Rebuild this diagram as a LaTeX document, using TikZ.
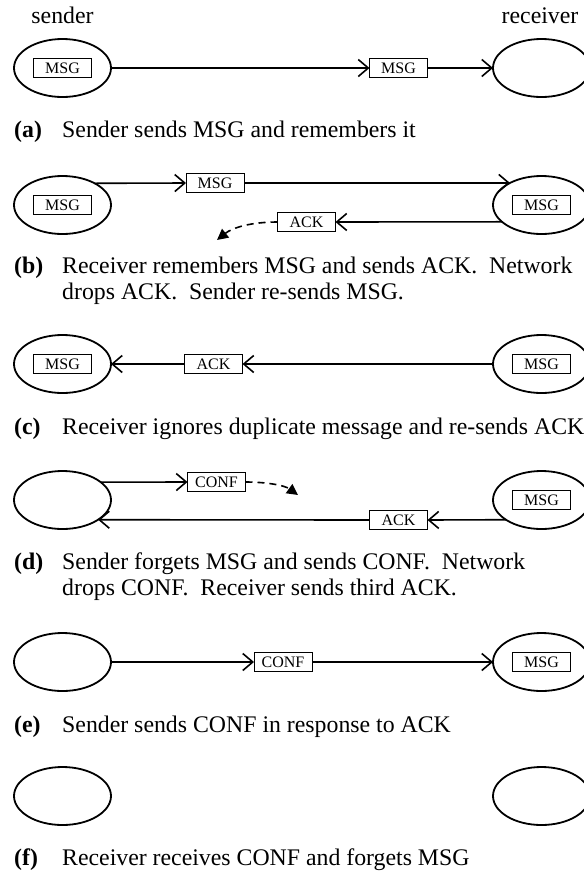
\documentclass[tikz,border=0pt]{standalone}
\usepackage{fontspec}
\setmainfont{Liberation Serif}
\usetikzlibrary{shapes.geometric,arrows.meta}
\begin{document}
\begin{tikzpicture}[x=1pt,y=-1pt,
  proc/.style={draw,line width=1.8pt,ellipse,minimum width=97pt,minimum height=58pt,inner sep=0pt,outer sep=0pt},
  pkt/.style={draw,fill=white,line width=1pt,minimum width=58pt,minimum height=19pt,inner sep=0pt,outer sep=0pt,font=\fontsize{16}{18}\selectfont},
  msgarrow/.style={line width=1.6pt,-{Straight Barb[length=10pt,width=17pt,line width=1.6pt]}},
  lost/.style={line width=1.6pt,dash pattern=on 7pt off 5pt,-{Triangle[length=11pt,width=11pt]}},
  ttl/.style={anchor=base,font=\fontsize{23.8}{26}\selectfont,inner sep=0pt},
  captext/.style={anchor=base west,font=\fontsize{23.8}{26}\selectfont,inner sep=0pt},
  tag/.style={anchor=base west,font=\fontsize{23.8}{26}\selectfont\bfseries,inner sep=0pt}
]
\useasboundingbox (0,0) rectangle (584,876);

% titles
\node[ttl] (lblS) at (62.5,23) {sender};
\node[ttl] (lblR) at (540,23) {receiver};

% (a)
\node[proc] (sa) at (62.5,68) {};
\node[pkt] (sam) at (62.5,68) {MSG};
\node[proc] (ra) at (541.5,68) {};
\node[pkt] (am) at (398.5,68) {MSG};
\draw[msgarrow] (sa.east) -- (am.west);
\draw[msgarrow] (am.east) -- (ra.west);
\node[tag] (ta) at (14,137) {(a)};
\node[captext] (ca) at (62,137) {Sender sends MSG and remembers it};

% (b)
\node[proc] (sb) at (62.5,205) {};
\node[pkt] (sbm) at (62.5,205) {MSG};
\node[proc] (rb) at (541.5,205) {};
\node[pkt] (rbm) at (541.5,205) {MSG};
\node[pkt] (bm) at (215,183) {MSG};
\draw[msgarrow] (sb.34.85) -- (bm.west);
\draw[msgarrow] (bm.east) -- (rb.145.15);
\node[pkt] (bk) at (306.5,222) {ACK};
\draw[msgarrow] (rb.203.4) -- (bk.east);
\coordinate (bdrop) at (217,240);
\draw[lost] (bk.west) .. controls (250,222) and (232,228) .. (bdrop);
\node[tag] (tb) at (14,273) {(b)};
\node[captext] (cb1) at (62,273) {Receiver remembers MSG and sends ACK.\ \ Network};
\node[captext] (cb2) at (62,299) {drops ACK.\ \ Sender re-sends MSG.};

% (c)
\node[proc] (sc) at (62.5,364) {};
\node[pkt] (scm) at (62.5,364) {MSG};
\node[proc] (rc) at (541.5,364) {};
\node[pkt] (rcm) at (541.5,364) {MSG};
\node[pkt] (ck) at (213.5,364) {ACK};
\draw[msgarrow] (rc.west) -- (ck.east);
\draw[msgarrow] (ck.west) -- (sc.east);
\node[tag] (tc) at (14,434) {(c)};
\node[captext] (cc) at (62,434) {Receiver ignores duplicate message and re-sends ACK};

% (d)
\node[proc] (sd) at (62.5,500) {};
\node[proc] (rd) at (541.5,500) {};
\node[pkt] (rdm) at (541.5,500) {MSG};
\node[pkt] (dc) at (216.5,482) {CONF};
\draw[msgarrow] (sd.25.3) -- (dc.west);
\coordinate (ddrop) at (298,495);
\draw[lost] (dc.east) .. controls (265,482) and (284,485) .. (ddrop);
\node[pkt] (dk) at (398.5,520) {ACK};
\draw[msgarrow] (rd.209.7) -- (dk.east);
\draw[msgarrow] (dk.west) -- (sd.-29.7);
\node[tag] (td) at (14,569) {(d)};
\node[captext] (cd1) at (62,569) {Sender forgets MSG and sends CONF.\ \ Network};
\node[captext] (cd2) at (62,595) {drops CONF.\ \ Receiver sends third ACK.};

% (e)
\node[proc] (se) at (62.5,662) {};
\node[proc] (re) at (541.5,662) {};
\node[pkt] (rem) at (541.5,662) {MSG};
\node[pkt] (ec) at (283,662) {CONF};
\draw[msgarrow] (se.east) -- (ec.west);
\draw[msgarrow] (ec.east) -- (re.west);
\node[tag] (te) at (14,732) {(e)};
\node[captext] (ce) at (62,732) {Sender sends CONF in response to ACK};

% (f)
\node[proc] (sf) at (62.5,796) {};
\node[proc] (rf) at (541.5,796) {};
\node[tag] (tf) at (14,865) {(f)};
\node[captext] (cf) at (62,865) {Receiver receives CONF and forgets MSG};
\end{tikzpicture}
\end{document}
